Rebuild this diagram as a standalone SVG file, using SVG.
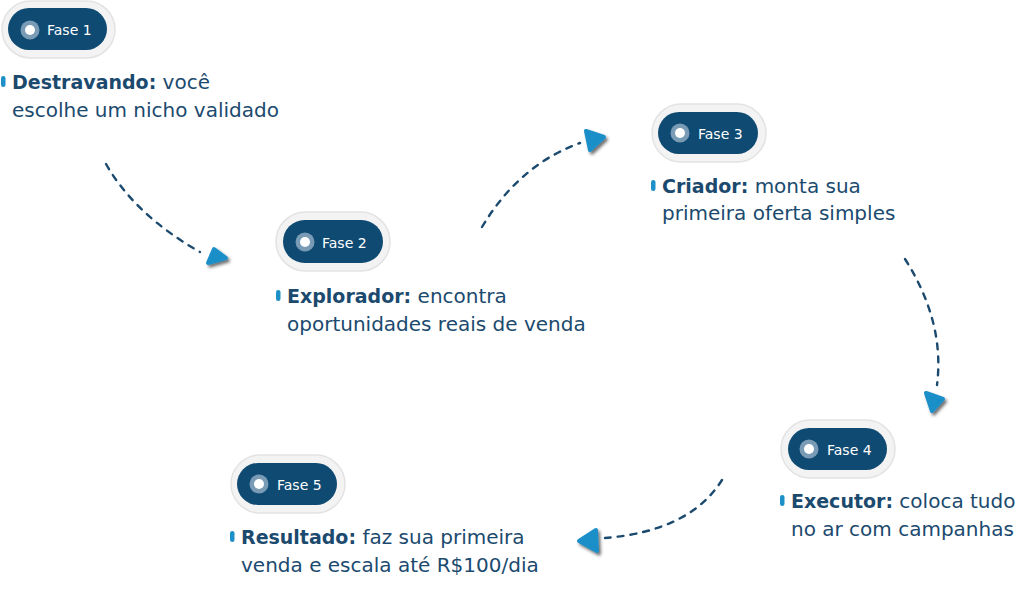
<svg xmlns="http://www.w3.org/2000/svg" width="1024" height="591" viewBox="0 0 1024 591">
<defs>
<style>
.outer{fill:#f3f3f3;stroke:#e3e3e3;stroke-width:1.5}
.inner{fill:#0f4a72}
.ring{fill:#7a9bb6}
.dot{fill:#ffffff}
.ptxt{font-family:"DejaVu Sans","Open Sans",sans-serif;font-size:14px;fill:#ffffff}
.desc{font-family:"DejaVu Sans","Open Sans",sans-serif;font-size:20px;fill:#1b4a6e}
.b{font-weight:bold;font-size:19px}
.bul{fill:#1e90c8}
.conn{fill:none;stroke:#1b4a6e;stroke-width:2.4;stroke-dasharray:6 7;stroke-linecap:round}
.head{fill:#1a8fc9;stroke:#1a8fc9;stroke-width:4;stroke-linejoin:round;filter:url(#sh)}
</style>
<filter id="sh" x="-50%" y="-50%" width="200%" height="200%">
<feDropShadow dx="2" dy="2.5" stdDeviation="1.5" flood-color="#222" flood-opacity="0.65"/>
</filter>
</defs>
<g id="connectors">
<path class="conn" d="M106,164 Q135,215 200,252"/>
<polygon class="head" points="214,249 208,263 226,258"/>
<path class="conn" d="M482,227 Q519,165 580,143"/>
<polygon class="head" points="586,131 590,150 604,137"/>
<path class="conn" d="M905,259 Q945,322 937,385"/>
<polygon class="head" points="926,393 932,411 943,399"/>
<path class="conn" d="M722,480 Q690,531 605,538"/>
<polygon class="head" points="579,541 596,530 597,551"/>
</g>
<g id="fase1">
<rect class="outer" x="2" y="1" width="113" height="57" rx="28.5"/>
<rect class="inner" x="8" y="8" width="99" height="42" rx="21"/>
<circle class="ring" cx="30" cy="30" r="9.5"/>
<circle class="dot" cx="30" cy="30" r="5"/>
<text class="ptxt" x="47" y="35">Fase 1</text>
<rect class="bul" x="1" y="76" width="4.5" height="11" rx="2.2"/>
<text class="desc" x="12" y="89"><tspan class="b">Destravando:</tspan> você</text>
<text class="desc" x="12" y="117">escolhe um nicho validado</text>
</g>
<g id="fase2">
<rect class="outer" x="276" y="212" width="114" height="59" rx="29.5"/>
<rect class="inner" x="283" y="220" width="100" height="43" rx="21.5"/>
<circle class="ring" cx="305" cy="242" r="9.5"/>
<circle class="dot" cx="305" cy="242" r="5"/>
<text class="ptxt" x="322" y="248">Fase 2</text>
<rect class="bul" x="276" y="290" width="4.5" height="11" rx="2.2"/>
<text class="desc" x="287" y="303"><tspan class="b">Explorador:</tspan> encontra</text>
<text class="desc" x="287" y="331">oportunidades reais de venda</text>
</g>
<g id="fase3">
<rect class="outer" x="652" y="104" width="114" height="58" rx="29"/>
<rect class="inner" x="658" y="112" width="100" height="42" rx="21"/>
<circle class="ring" cx="680" cy="133" r="9.5"/>
<circle class="dot" cx="680" cy="133" r="5"/>
<text class="ptxt" x="698" y="139">Fase 3</text>
<rect class="bul" x="651" y="180" width="4.5" height="11" rx="2.2"/>
<text class="desc" x="662" y="193"><tspan class="b">Criador:</tspan> monta sua</text>
<text class="desc" x="662" y="220">primeira oferta simples</text>
</g>
<g id="fase4">
<rect class="outer" x="781" y="420" width="114" height="58" rx="29"/>
<rect class="inner" x="788" y="428" width="99" height="42" rx="21"/>
<circle class="ring" cx="809" cy="449" r="9.5"/>
<circle class="dot" cx="809" cy="449" r="5"/>
<text class="ptxt" x="827" y="455">Fase 4</text>
<rect class="bul" x="780" y="495" width="4.5" height="11" rx="2.2"/>
<text class="desc" x="791" y="508"><tspan class="b">Executor:</tspan> coloca tudo</text>
<text class="desc" x="791" y="536">no ar com campanhas</text>
</g>
<g id="fase5">
<rect class="outer" x="231" y="455" width="114" height="58" rx="29"/>
<rect class="inner" x="237" y="463" width="100" height="42" rx="21"/>
<circle class="ring" cx="259" cy="484" r="9.5"/>
<circle class="dot" cx="259" cy="484" r="5"/>
<text class="ptxt" x="277" y="490">Fase 5</text>
<rect class="bul" x="230" y="531" width="4.5" height="11" rx="2.2"/>
<text class="desc" x="241" y="544"><tspan class="b">Resultado:</tspan> faz sua primeira</text>
<text class="desc" x="241" y="572">venda e escala até R$100/dia</text>
</g>
</svg>
